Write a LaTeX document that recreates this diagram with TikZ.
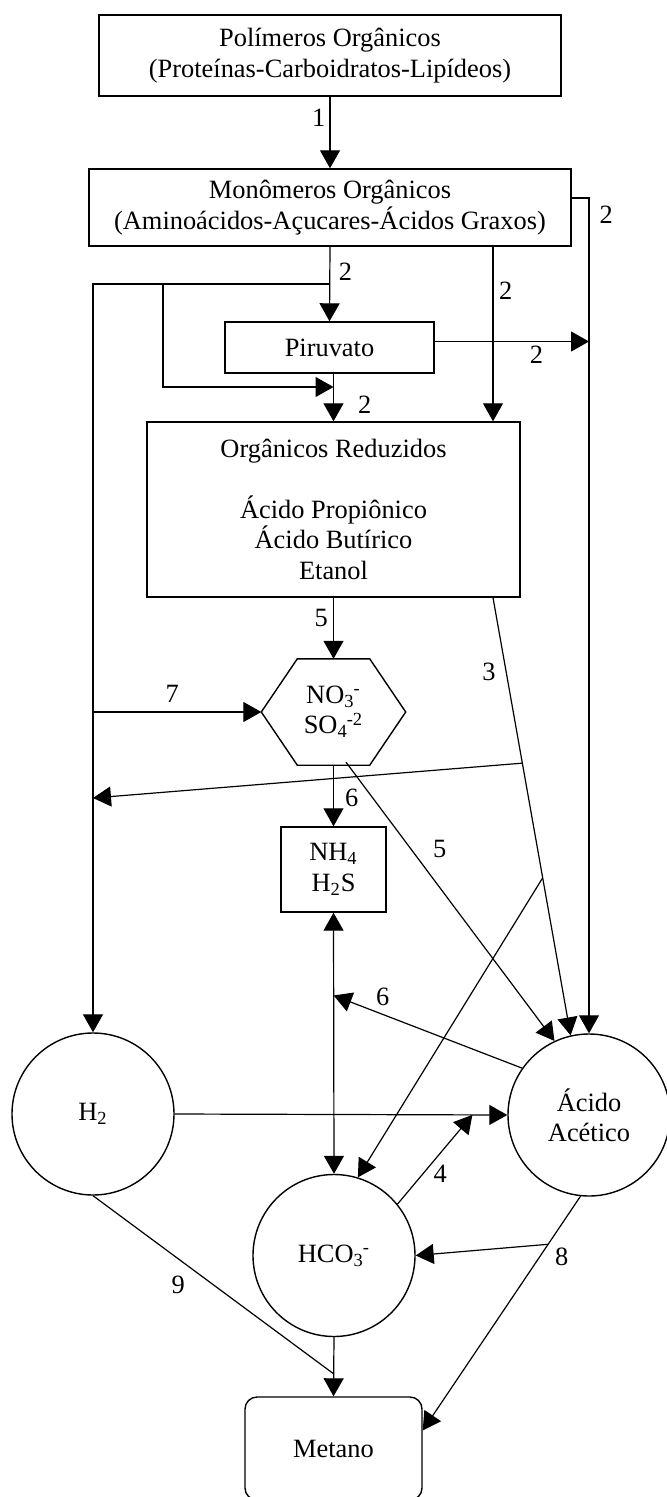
\documentclass[tikz,border=0pt]{standalone}
\usepackage{fontspec}
\setmainfont{Liberation Serif}
\usetikzlibrary{arrows.meta}
\newcommand{\subsup}[2]{\textsubscript{#1}\kern-0.5pt\textsuperscript{#2}}
\newcommand{\txtsize}{\fontsize{13.2}{15.2}\selectfont}
\tikzset{
  box/.style={
    rectangle, draw, line width=0.7pt,
    inner sep=0pt, align=center, font=\txtsize
  },
  ball/.style={circle, draw, line width=0.7pt, inner sep=0pt,
    minimum size=81pt, align=center, font=\txtsize},
  lnk/.style={line width=0.6pt},
  arr/.style={-{Triangle[length=9pt,width=10pt]}, line width=0.6pt},
  dArr/.style={{Triangle[length=9pt,width=10pt]}-{Triangle[length=9pt,width=10pt]}, line width=0.6pt},
  lbl/.style={inner sep=1pt, font=\txtsize},
}

\begin{document}
\begin{tikzpicture}[x=0.5pt, y=-0.5pt]
\useasboundingbox (0,0) rectangle (666,1497);

% boxes at fixed coordinates
\node[box, minimum width=231pt, minimum height=40.5pt] (pol) at (330,55.5)
  {Polímeros Orgânicos\\(Proteínas-Carboidratos-Lipídeos)};
\node[box, minimum width=241pt, minimum height=38.5pt] (mono) at (330,207.5)
  {Monômeros Orgânicos\\(Aminoácidos-Açucares-Ácidos Graxos)};
\node[box, minimum width=104.5pt, minimum height=25.5pt] (piru) at (329.5,347.5) {Piruvato};
\node[box, minimum width=186.5pt, minimum height=87.5pt] (red) at (333.5,509.5)
  {Orgânicos Reduzidos\\[\baselineskip]Ácido Propiônico\\Ácido Butírico\\Etanol};
\node[box, draw=none, minimum width=71.5pt, minimum height=52.5pt] (hex) at (333.5,712)
  {NO\subsup{3}{-}\\SO\subsup{4}{-2}};
\draw[line width=0.7pt] ([xshift=18pt]hex.north west) -- ([xshift=-18pt]hex.north east)
  -- (hex.east) -- ([xshift=-18pt]hex.south east) -- ([xshift=18pt]hex.south west)
  -- (hex.west) -- cycle;
\node[box, minimum width=52.5pt, minimum height=42.5pt] (nh) at (333.5,869.5)
  {NH\textsubscript{4}\\H\textsubscript{2}S};

% circles
\node[ball] (h2) at (93,1114) {H\textsubscript{2}};
\node[ball] (acet) at (589,1115) {Ácido\\Acético};
\node[ball] (hco) at (334,1255.5) {HCO\subsup{3}{-}};
\node[box, rounded corners=6pt, minimum width=88.5pt, minimum height=51.5pt] (met) at (333.5,1448.5) {Metano};

\coordinate (br) at (330,284);
\coordinate (brb) at (163,284);
\coordinate (jn) at (333.5,387);
\coordinate (lw) at (93,798);

% upper part
\draw[arr] (pol) -- (mono) node[lbl, pos=0.29, left=1pt] {1};
\draw[arr] ([yshift=4.75pt]mono.east) -| (acet.north) node[lbl, pos=0.51, right=4pt] {2};
\draw[arr] (mono.south) -- (piru.north) node[lbl, pos=0.34, right=3.2pt] {2};
\draw[arr] (br) -| (h2.north);
\draw[arr] (brb) |- (jn);
\draw[arr] (red.north |- piru.south) -- (red.north) node[lbl, pos=0.65, right=11pt] {2};
\draw[arr] ([xshift=81.5pt]mono.south) -- ([xshift=81.5pt]mono.south |- red.north)
  node[lbl, pos=0.25, right=1.7pt] {2};
\draw[arr] ([yshift=3pt]piru.east) -- ([yshift=3pt]piru.east -| acet.north)
  node[lbl, pos=0.66, below=1pt] {2};

% middle part
\draw[arr] (red.south) -- (hex.north) node[lbl, pos=0.33, left=1.5pt] {5};
\draw[arr] (h2.north |- hex.west) -- (hex.west) node[lbl, pos=0.47, above=3.5pt] {7};
\draw[arr] ([xshift=79.75pt]red.south) -- (acet.103)
  coordinate[pos=0.378] (c3a) coordinate[pos=0.64] (c3b)
  node[lbl, pos=0.17, left=4pt] {3};
\draw[arr] (c3a) -- (lw);
\draw[arr] (hex.south) -- (nh.north) node[lbl, pos=0.53, right=4.5pt] {6};
\draw[arr] ([xshift=6.25pt,yshift=1.5pt]hex.south) -- (acet.115) node[lbl, pos=0.31, right=10pt] {5};
\draw[dArr] (nh.south) -- (hco.north) coordinate[pos=0.317] (c6);
\draw[arr] (acet.145) -- (c6) node[lbl, pos=0.74, above=3pt] {6};
\draw[arr] (c3b) -- (hco.73);

% lower part
\draw[arr] (h2.east) -- (acet.west) coordinate[pos=0.895] (c4);
\draw[arr] (hco.39) -- (c4) node[lbl, pos=0.34, right=4pt] {4};
\draw[arr] (acet.264) -- ([yshift=9pt]met.east) coordinate[pos=0.205] (c8)
  node[lbl, pos=0.26, right=6.5pt] {8};
\draw[arr] (c8) -- (hco.east);
\draw[arr] (hco.south) -- (met.north) coordinate[pos=0.62] (c9);
\draw[lnk] (h2.south) -- (c9) node[lbl, pos=0.5, left=13pt] {9};

\end{tikzpicture}
\end{document}
